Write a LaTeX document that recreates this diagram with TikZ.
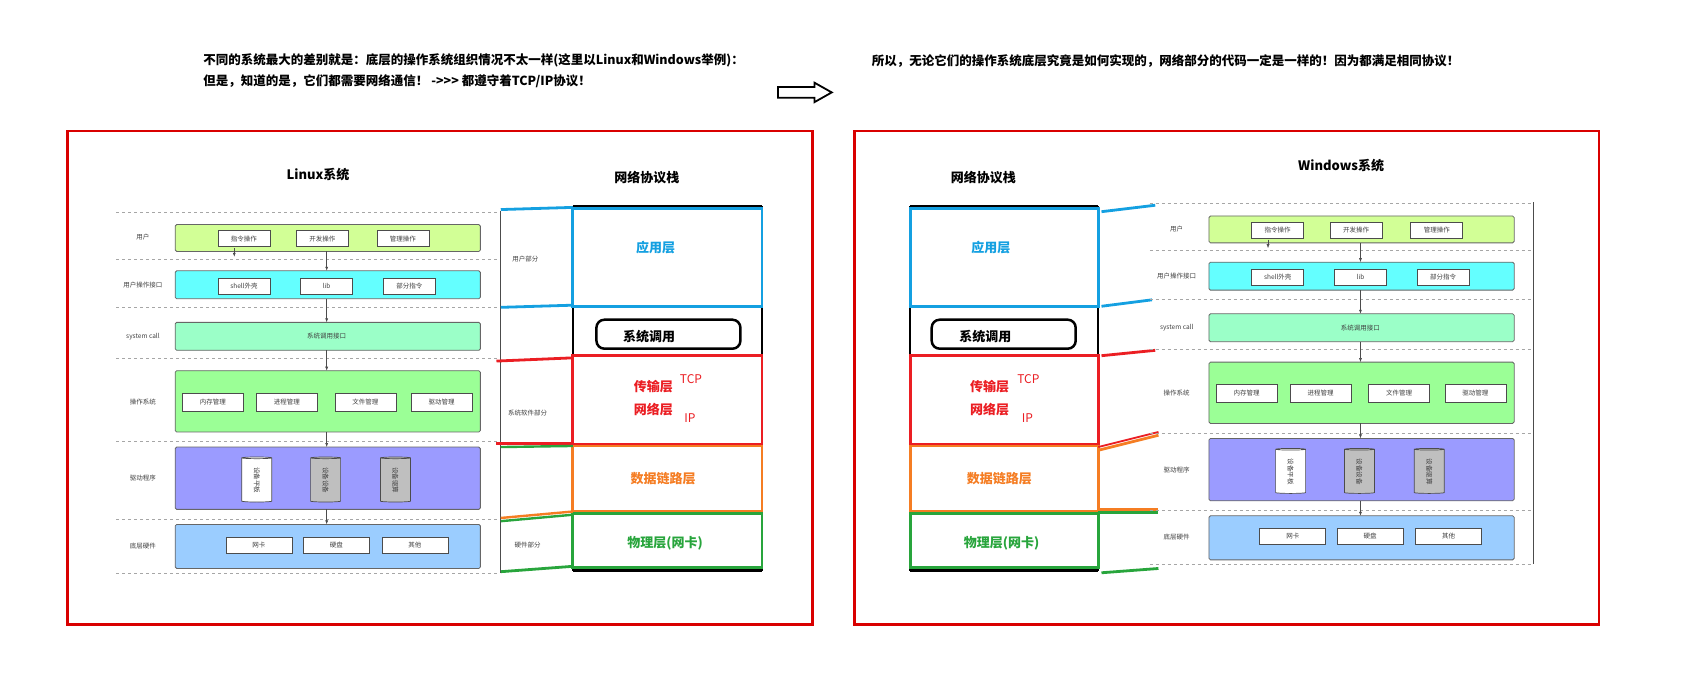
\documentclass[tikz,border=0pt]{standalone}
\usepackage{fontspec}
\setmainfont{Noto Sans CJK SC}
\usetikzlibrary{shapes.geometric,arrows.meta}
\tikzset{
 sm/.style={font=\fontsize{6.5}{7}\selectfont, text=black!75},
 sub/.style={draw=black!70, fill=white, sm, minimum height=16pt, inner sep=1pt, line width=0.6pt},
 row/.style={draw=black!60, rounded corners=1.5pt, line width=0.8pt},
 dot/.style={draw=black!35, dashed, line width=0.4pt},
 ar/.style={-{Latex[length=4pt,width=3pt]}, draw=black!70, line width=0.6pt},
 cyl/.style={cylinder, shape border rotate=90, aspect=0.25, draw=black!70, minimum width=30pt, minimum height=45pt, line width=0.7pt},
 lay/.style={font=\fontsize{13}{15}\bfseries},
 tit/.style={font=\fontsize{13}{15}\bfseries},
 hd/.style={anchor=west, font=\fontsize{12.5}{14}\bfseries},
 fr/.style={draw=red!85!black, line width=2.5pt},
 cl/.style={line width=2.8pt},
}
\definecolor{cblue}{RGB}{20,160,225}
\definecolor{cred}{RGB}{235,30,35}
\definecolor{corange}{RGB}{245,125,35}
\definecolor{cgreen}{RGB}{40,165,60}
\newcommand{\osdiagram}{%
 \foreach \y in {197,241,286,333,411,483,533} \draw[dot] (-55,\y) -- (300,\y);
 \draw[row,fill={rgb,255:red,210;green,255;blue,150}] (0,209) rectangle (284,234);
 \draw[row,fill={rgb,255:red,100;green,255;blue,255}] (0,252) rectangle (284,278);
 \draw[row,fill={rgb,255:red,155;green,255;blue,200}] (0,300) rectangle (284,326);
 \draw[row,fill={rgb,255:red,155;green,255;blue,150}] (0,345) rectangle (284,402);
 \draw[row,fill={rgb,255:red,155;green,155;blue,255}] (0,416) rectangle (284,474);
 \draw[row,fill={rgb,255:red,155;green,205;blue,255}] (0,488) rectangle (284,529);
 \node[sm] (l1) at (-30,221) {用户};
 \node[sm] (l2) at (-30,265) {用户操作接口};
 \node[sm] (l3) at (-30,313) {system call};
 \node[sm] (l4) at (-30,374) {操作系统};
 \node[sm] (l5) at (-30,445) {驱动程序};
 \node[sm] (l6) at (-30,508) {底层硬件};
 \node[sub,minimum width=52pt] (a1) at (64,222) {指令操作};
 \node[sub,minimum width=52pt] (a2) at (137,222) {开发操作};
 \node[sub,minimum width=52pt] (a3) at (212,222) {管理操作};
 \node[sub,minimum width=52pt] (b1) at (64,266) {shell外壳};
 \node[sub,minimum width=52pt] (b2) at (141,266) {lib};
 \node[sub,minimum width=52pt] (b3) at (218,266) {部分指令};
 \node[sm] (c1) at (141,313) {系统调用接口};
 \node[sub,minimum width=61pt,minimum height=18pt] (d1) at (35,374) {内存管理};
 \node[sub,minimum width=61pt,minimum height=18pt] (d2) at (104,374) {进程管理};
 \node[sub,minimum width=61pt,minimum height=18pt] (d3) at (177,374) {文件管理};
 \node[sub,minimum width=61pt,minimum height=18pt] (d4) at (248,374) {驱动管理};
 \node[cyl,fill=white] (e1) at (76,447) {};
 \node[cyl,fill=black!25] (e2) at (140,447) {};
 \node[cyl,fill=black!25] (e3) at (205,447) {};
 \node[sm,rotate=-90] at (e1) {设备平板};
 \node[sm,rotate=-90] at (e2) {设备设备};
 \node[sm,rotate=-90] at (e3) {设备驱算};
 \node[sub,minimum width=66pt] (f1) at (78,507) {网卡};
 \node[sub,minimum width=66pt] (f2) at (150,507) {硬盘};
 \node[sub,minimum width=66pt] (f3) at (223,507) {其他};
 \coordinate (u0) at (141,234); \coordinate (u1) at (141,252);
 \coordinate (u2) at (141,278); \coordinate (u3) at (141,300);
 \coordinate (u4) at (141,326); \coordinate (u5) at (141,345);
 \coordinate (u6) at (141,402); \coordinate (u7) at (141,416);
 \coordinate (u8) at (141,474); \coordinate (u9) at (141,488);
 \coordinate (v0) at (55,231); \coordinate (v1) at (55,239);
 \draw[ar] (u0) -- (u1); \draw[ar] (u2) -- (u3); \draw[ar] (u4) -- (u5);
 \draw[ar] (u6) -- (u7); \draw[ar] (u8) -- (u9); \draw[ar] (v0) -- (v1);
}
\newcommand{\stackbox}[2]{%
 \draw[black, line width=2.5pt] (#1,192) -- (#2,192);
 \draw[black, line width=2.5pt] (#1,531) -- (#2,531);
 \draw[black, line width=2pt] (#2,192) -- (#2,531);
 \draw[black, line width=2pt] (#1,192) -- (#1,531);
 \draw[cblue, cl] (#1,194) rectangle (#2,285);
 \draw[cred, cl] (#1,331) rectangle (#2,414);
 \draw[corange, cl] (#1,415) rectangle (#2,476);
 \draw[cgreen, cl] (#1,478) rectangle (#2,528);
}
\begin{document}
\begin{tikzpicture}[x=1.0746pt,y=-1.0746pt]
\useasboundingbox (0,0) rectangle (1568,648.6);
\fill[white] (0,0) rectangle (1568,648.6);
% headers
\node[hd] (h1) at (186,56) {不同的系统最大的差别就是：底层的操作系统组织情况不太一样(这里以Linux和Windows举例)：};
\node[hd] (h2) at (186,76) {但是，知道的是，它们都需要网络通信！ -{}>{}>{}> 都遵守着TCP/IP协议！};
\node[hd] (h3) at (808,57) {所以，无论它们的操作系统底层究竟是如何实现的，网络部分的代码一定是一样的！因为都满足相同协议！};
\draw[line width=1.8pt] (724,81) -- (758,81) -- (758,77) -- (774,86) -- (758,95) -- (758,91) -- (724,91) -- cycle;
% frames
\draw[fr] (63,122) rectangle (756,581);
\draw[fr] (795,122) rectangle (1488,581);
% LEFT
\node[tit] (lt) at (296,162) {Linux系统};
\node[tit] (ls) at (602,165) {网络协议栈};
\begin{scope}[shift={(163,0)}]
 \osdiagram
\end{scope}
\draw[black!70, line width=0.6pt] (466,196) -- (466,533);
\stackbox{533}{709}
\draw[cblue, cl] (466,195) -- (533,193);
\draw[cblue, cl] (466,286) -- (533,284);
\draw[cred, cl] (462,336) -- (533,333);
\draw[cred, cl] (462,413) -- (533,413);
\draw[cgreen, line width=2.4pt] (466,416) -- (533,415);
\draw[corange, line width=2.4pt] (466,482) -- (533,476);
\draw[cgreen, line width=2.4pt] (466,485) -- (533,479);
\draw[cgreen, cl] (466,532) -- (533,527);
\node[sm] (p1) at (489,241) {用户部分};
\node[sm] (p2) at (491,384) {系统软件部分};
\node[sm] (p3) at (491,507) {硬件部分};
\node[draw, line width=2.5pt, rounded corners=8pt, minimum width=144pt, minimum height=29pt] (sc1) at (622,311) {};
\node[font=\fontsize{13}{15}\bfseries] at (604,313) {系统调用};
\node[lay, text=cblue] (n1) at (610,230) {应用层};
\node[lay, text=cred] (n2) at (608,360) {传输层};
\node[lay, text=cred] (n3) at (608,381) {网络层};
\node[text=cred, font=\fontsize{12}{14}\selectfont] at (643,353) {TCP};
\node[text=cred, font=\fontsize{12}{14}\selectfont] at (642,389) {IP};
\node[lay, text=corange] (n4) at (617,445) {数据链路层};
\node[lay, text=cgreen] (n5) at (619,506) {物理层(网卡)};
% RIGHT
\node[tit] (rs) at (915,165) {网络协议栈};
\node[tit] (rt) at (1248,154) {Windows系统};
\stackbox{847}{1022}
\node[draw, line width=2.5pt, rounded corners=8pt, minimum width=144pt, minimum height=29pt] (sc2) at (934,311) {};
\node[font=\fontsize{13}{15}\bfseries] at (917,313) {系统调用};
\node[lay, text=cblue] (m1) at (922,230) {应用层};
\node[lay, text=cred] (m2) at (921,360) {传输层};
\node[lay, text=cred] (m3) at (921,381) {网络层};
\node[text=cred, font=\fontsize{12}{14}\selectfont] at (957,353) {TCP};
\node[text=cred, font=\fontsize{12}{14}\selectfont] at (956,389) {IP};
\node[lay, text=corange] (m4) at (930,445) {数据链路层};
\node[lay, text=cgreen] (m5) at (932,506) {物理层(网卡)};
\draw[cblue, cl] (1025,197) -- (1075,191);
\draw[cblue, cl] (1025,285) -- (1072,279);
\draw[cred, cl] (1025,331) -- (1075,326);
\draw[corange, cl] (1022,419) -- (1078,405);
\draw[cred, line width=1.8pt] (1022,416) -- (1078,402);
\draw[corange, cl] (1022,474) -- (1078,474);
\draw[cgreen, cl] (1022,477) -- (1078,477);
\draw[cgreen, cl] (1025,533) -- (1078,529);
\begin{scope}[shift={(1125,-8)}]
 \osdiagram
\end{scope}
\draw[black!70, line width=0.6pt] (1427,188) -- (1427,525);
\end{tikzpicture}
\end{document}
